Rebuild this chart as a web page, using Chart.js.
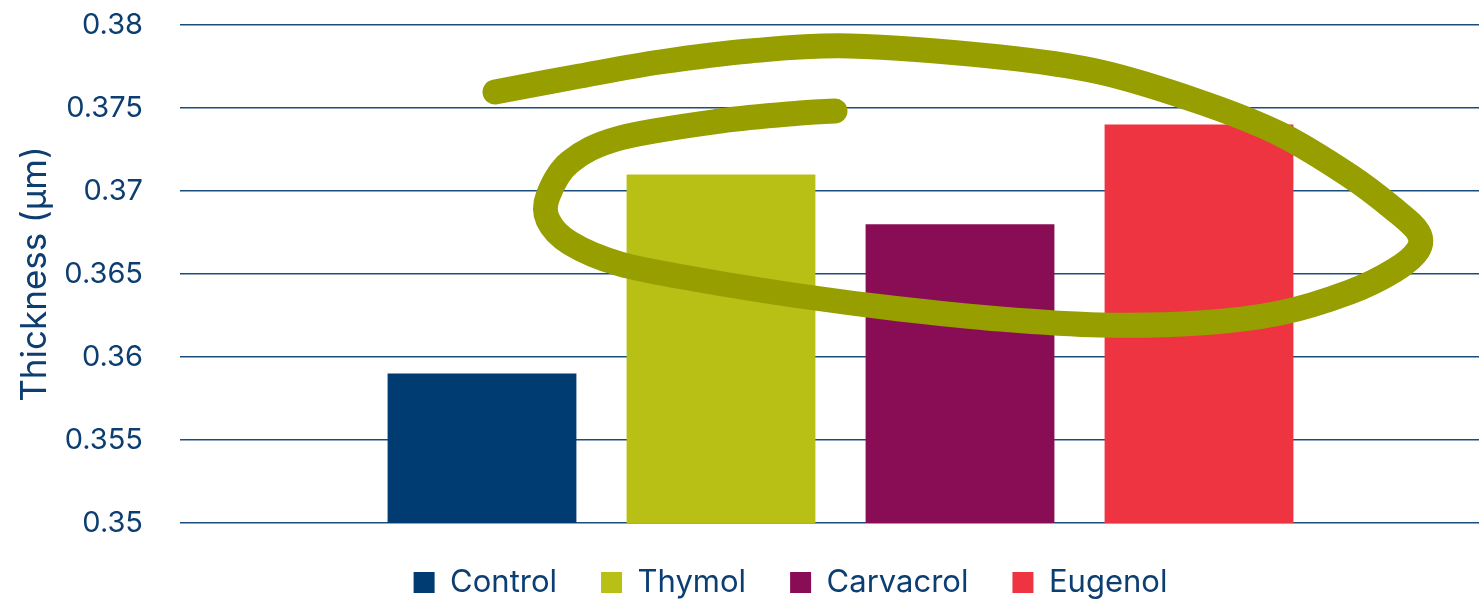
<!DOCTYPE html>
<html>
<head>
<meta charset="utf-8">
<script src="https://cdn.jsdelivr.net/npm/chart.js@4.4.1/dist/chart.umd.min.js"></script>
<style>
    html, body { margin: 0; padding: 0; background: #fff; overflow: hidden; }
    #wrap { width: 1501px; height: 603px; }
</style>
</head>
<body>
<div id="wrap"><canvas id="thicknessChart"></canvas></div>
<script>
// Chart data
const categories = [''];
const seriesNames = ['Control', 'Thymol', 'Carvacrol', 'Eugenol'];
const seriesValues = [0.359, 0.371, 0.368, 0.374];
const seriesColors = ['#003b71', '#b8c015', '#880d55', '#ee3440'];
const yTickLabels = ['0.35', '0.355', '0.36', '0.365', '0.37', '0.375', '0.38'];

const textColor = '#0d3e72';
const gridColor = '#1c4c7c';

// Hand-drawn highlight loop (annotation over the plot, canvas pixels)
const scribble = [
    [495, 92], [580, 76], [660, 62], [750, 51], [850, 46], [1000, 57], [1100, 72],
    [1200, 102], [1280, 134], [1350, 176], [1395, 210], [1418, 232], [1418, 250],
    [1395, 270], [1350, 292], [1280, 313], [1200, 323], [1100, 325],
    [1000, 319], [900, 309], [800, 296], [700, 280], [620, 264], [570, 243],
    [548, 220], [548, 196], [570, 162], [620, 138], [720, 121], [800, 113], [835, 111]
];

const scribblePlugin = {
    id: 'scribble',
    afterDatasetsDraw(chart) {
        const ctx = chart.ctx;
        const p = scribble;
        ctx.save();
        ctx.strokeStyle = '#979e00';
        ctx.lineWidth = 25;
        ctx.lineCap = 'round';
        ctx.lineJoin = 'round';
        ctx.beginPath();
        ctx.moveTo(p[0][0], p[0][1]);
        for (let i = 0; i < p.length - 1; i++) {
            const p0 = p[i - 1] || p[i];
            const p1 = p[i];
            const p2 = p[i + 1];
            const p3 = p[i + 2] || p2;
            ctx.bezierCurveTo(
                p1[0] + (p2[0] - p0[0]) / 6, p1[1] + (p2[1] - p0[1]) / 6,
                p2[0] - (p3[0] - p1[0]) / 6, p2[1] - (p3[1] - p1[1]) / 6,
                p2[0], p2[1]
            );
        }
        ctx.stroke();
        ctx.restore();
    }
};

// Nudge the legend so it sits where the original does
const legendShift = {
    id: 'legendShift',
    afterLayout(chart) {
        if (chart.legend) {
            chart.legend.left += 40;
            chart.legend.right += 40;
        }
    }
};

const ctx = document.getElementById('thicknessChart').getContext('2d');
new Chart(ctx, {
    type: 'bar',
    data: {
        labels: categories,
        datasets: seriesNames.map((name, i) => ({
            label: name,
            data: [seriesValues[i]],
            backgroundColor: seriesColors[i],
            borderWidth: 0,
            barPercentage: 0.79,
            categoryPercentage: 0.7237
        }))
    },
    options: {
        responsive: true,
        maintainAspectRatio: false,
        animation: false,
        layout: {
            padding: { top: 25, bottom: -5, left: 0, right: 0 }
        },
        plugins: {
            legend: {
                position: 'bottom',
                labels: {
                    color: textColor,
                    boxWidth: 21,
                    boxHeight: 21,
                    padding: 44,
                    font: { family: 'Inter', size: 31 }
                }
            },
            tooltip: { enabled: false }
        },
        scales: {
            x: {
                display: false
            },
            y: {
                min: 0.35,
                max: 0.38,
                ticks: {
                    stepSize: 0.005,
                    padding: 0,
                    color: textColor,
                    font: { family: 'Inter', size: 29 },
                    callback: (value, index) => yTickLabels[index]
                },
                grid: {
                    color: gridColor,
                    lineWidth: 1.5,
                    drawTicks: true,
                    tickLength: 37,
                    tickColor: 'rgba(0,0,0,0)'
                },
                border: { display: false },
                title: {
                    display: true,
                    text: 'Thickness (μm)',
                    color: textColor,
                    font: { family: 'Inter', size: 35 },
                    padding: { top: 14, bottom: 0 }
                },
                afterFit: (scale) => { scale.width = 180; }
            }
        }
    },
    plugins: [scribblePlugin, legendShift]
});
</script>
</body>
</html>
